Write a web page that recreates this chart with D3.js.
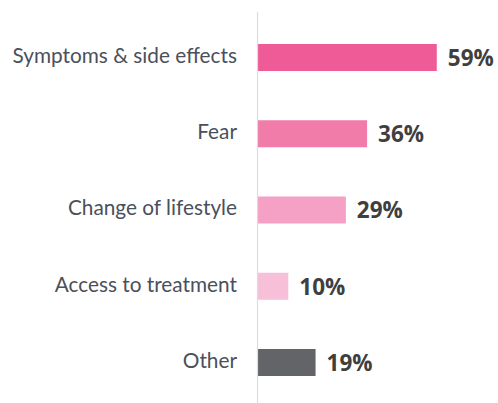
<!DOCTYPE html>
<html>
<head>
<meta charset="utf-8">
<script src="https://cdn.jsdelivr.net/npm/d3@7"></script>
<style>
  body { margin: 0; background: #fff; }
</style>
</head>
<body>
<script>
var categories = ["Symptoms & side effects", "Fear", "Change of lifestyle", "Access to treatment", "Other"];
var values = [59, 36, 29, 10, 19];
var colors = ["#ef5b97", "#f17ca9", "#f5a0c5", "#f8bfd9", "#636467"];

var width = 498, height = 403;

var svg = d3.select('body').append('svg').attr('width', width).attr('height', height);

var x = d3.scaleLinear().domain([0, 100]).range([258, 561]);
// bar centres land roughly on 57.5 ... 362.5
var y = d3.scaleBand().domain(categories).range([57.5 - 76.25 / 2, 362.5 + 76.25 / 2]).paddingInner(0.645).paddingOuter(0.3225);

svg.append('g').attr('class', 'bars').selectAll('rect')
    .data(categories)
    .enter()
    .append('rect')
    .attr('x', x(0))
    .attr('y', d => y(d) + y.bandwidth() / 2 - 13.5)
    .attr('width', (d, i) => x(values[i]) - x(0))
    .attr('height', 27)
    .attr('fill', (d, i) => colors[i]);

svg.append('line')
    .attr('x1', x(0) - 0.5).attr('x2', x(0) - 0.5)
    .attr('y1', 12).attr('y2', height)
    .attr('stroke', '#dcdcdc')
    .attr('stroke-width', 1.2);

svg.append('g').attr('class', 'labels').selectAll('text')
    .data(categories)
    .enter()
    .append('text')
    .text(d => d)
    .attr('x', 237)
    .attr('y', d => y(d) + y.bandwidth() / 2)
    .attr('dy', '0.26em')
    .attr('text-anchor', 'end')
    .attr('font-family', 'Lato, sans-serif')
    .attr('font-size', 20.8)
    .attr('fill', '#4b505b');

svg.append('g').attr('class', 'values').selectAll('text')
    .data(categories)
    .enter()
    .append('text')
    .text((d, i) => values[i] + '%')
    .attr('x', (d, i) => x(values[i]) + 11)
    .attr('y', d => y(d) + y.bandwidth() / 2)
    .attr('dy', '0.37em')
    .attr('font-family', '"Open Sans", sans-serif')
    .attr('font-weight', 700)
    .attr('font-size', 22.5)
    .attr('fill', '#3f3f40');
</script>
</body>
</html>
